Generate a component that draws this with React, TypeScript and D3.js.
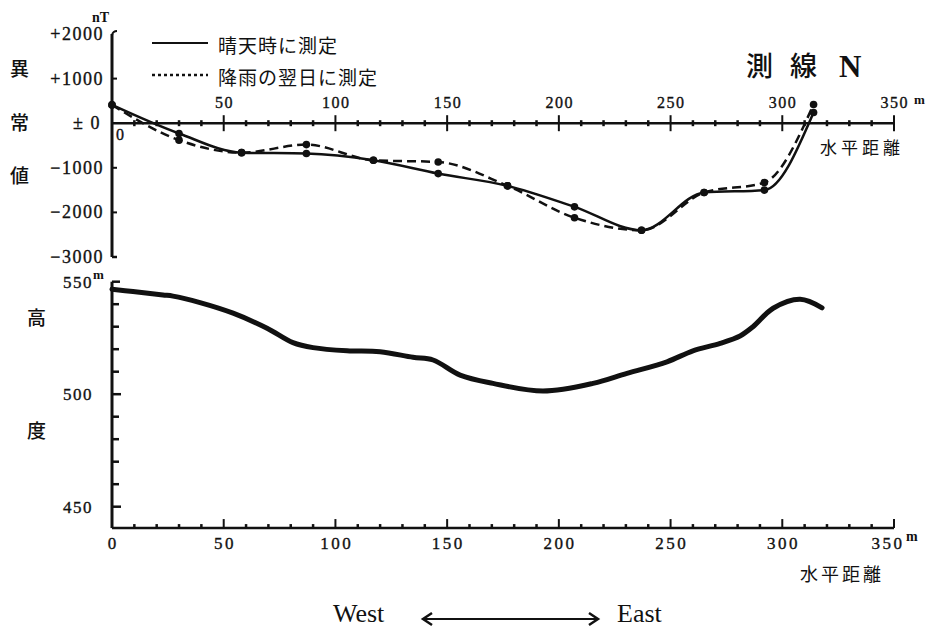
import React from "react";
import * as d3 from "d3";

// ---- data ----
const stationDistances = [0, 30, 58, 87, 117, 146, 177, 207, 237, 265, 292, 314];
const sunnyAnomaly = [410, -230, -660, -680, -830, -1130, -1405, -1875, -2400, -1555, -1500, 240];
const rainAnomaly = [410, -380, -660, -480, -830, -870, -1405, -2120, -2400, -1555, -1330, 420];

const profileDistances = [0, 9.4, 22.8, 27.3, 39.4, 54.2, 69.4, 81, 90, 105.2, 120, 134.7, 143.7, 155.8, 170.5, 192.9, 215.3, 230.5, 248.4, 260, 272.2, 281.1, 286.9, 295.9, 308, 317.8];
const profileHeights = [546.6, 545.6, 544.1, 543.6, 540.7, 536, 529.3, 522.9, 520.7, 519.3, 518.9, 516.4, 515.2, 508.5, 504.8, 501.4, 504.8, 509.3, 514.4, 519.3, 522.6, 525.9, 530, 538.2, 542.2, 538.4];

const xMajorTicks = [0, 50, 100, 150, 200, 250, 300, 350];
const anomalyTicks = [2000, 1000, 0, -1000, -2000, -3000];
const anomalyTickLabels = ["+2000", "+1000", "± 0", "−1000", "−2000", "−3000"];
const heightTicks = [550, 500, 450];
const legendLabels = ["晴天時に測定", "降雨の翌日に測定"];

const TSERIF = "'Liberation Serif', 'Times New Roman', serif";
const CJK = "'Noto Sans CJK JP', sans-serif";

export default function App() {
  const x = d3.scaleLinear().domain([0, 350]).range([112, 894]);
  const yTop = d3.scaleLinear().domain([-3000, 2000]).range([257, 34]);
  const yBot = d3.scaleLinear().domain([450, 550]).range([506.7, 281.7]);
  const topAxisY = yTop(0);
  const botAxisY = yBot(440.5);
  const axisX = x(0);

  const minorTicks = d3.range(10, 350, 10).filter((d) => d % 50 !== 0);
  const heightMinor = d3.range(450, 551, 10);

  const anomalyLine = d3
    .line<number>()
    .x((_, i) => x(stationDistances[i]))
    .y((d) => yTop(d))
    .curve(d3.curveMonotoneX);

  const profileLine = d3
    .line<number>()
    .x((_, i) => x(profileDistances[i]))
    .y((d) => yBot(d))
    .curve(d3.curveCatmullRom.alpha(0.5));

  const stroke = "#111";
  const numStyle = { stroke: stroke, strokeWidth: 0.35 };

  return (
    <svg
      width={928}
      height={630}
      style={{ position: "absolute", left: 0, top: 0, background: "#fff" }}
    >
      {/* ---------- top chart ---------- */}
      <line x1={axisX} x2={axisX} y1={yTop(2000)} y2={yTop(-3000)} stroke={stroke} strokeWidth={3} />
      <path d={`M${axisX},${yTop(2000) + 1} Q${axisX + 1},${yTop(2000) - 3} ${axisX + 5},${yTop(2000) - 3}`} fill="none" stroke={stroke} strokeWidth={2} />
      <line x1={axisX} x2={axisX + 5} y1={yTop(-3000)} y2={yTop(-3000)} stroke={stroke} strokeWidth={2.5} />
      {anomalyTicks.map((t, i) => (
        <g key={"ayt" + t}>
          {t !== 0 && t !== 2000 && t !== -3000 && (
            <line x1={axisX} x2={axisX + 5} y1={yTop(t)} y2={yTop(t)} stroke={stroke} strokeWidth={2} />
          )}
          <text
            x={t === 0 ? 101 : 104}
            y={yTop(t) + 6}
            textAnchor="end"
            fontFamily={TSERIF}
            fontSize={18}
            letterSpacing={1.5}
            fill={stroke}
            {...numStyle}
          >
            {anomalyTickLabels[i]}
          </text>
        </g>
      ))}
      <text x={92} y={22} fontFamily={TSERIF} fontSize={14} fontWeight="bold" fill={stroke}>
        nT
      </text>
      <line x1={axisX} x2={x(350)} y1={topAxisY} y2={topAxisY} stroke={stroke} strokeWidth={2.5} />
      {minorTicks.map((t) => (
        <line key={"tm" + t} x1={x(t)} x2={x(t)} y1={topAxisY - 3} y2={topAxisY + 3} stroke={stroke} strokeWidth={2.5} />
      ))}
      {xMajorTicks.filter((t) => t > 0).map((t) => (
        <g key={"tM" + t}>
          <line x1={x(t)} x2={x(t)} y1={topAxisY - 8} y2={topAxisY + 8} stroke={stroke} strokeWidth={2} />
          <text x={x(t) + 0.8} y={108} textAnchor="middle" fontFamily={TSERIF} fontSize={16} letterSpacing={1.5} fill={stroke} {...numStyle}>
            {t}
          </text>
        </g>
      ))}
      <text x={120} y={140} textAnchor="middle" fontFamily={TSERIF} fontSize={16} fill={stroke} {...numStyle}>
        0
      </text>
      <text x={x(350) + 20} y={104} fontFamily={TSERIF} fontSize={13} fontWeight="bold" fill={stroke}>
        m
      </text>
      <text x={820} y={154} fontFamily={CJK} fontSize={17} letterSpacing={4} fill={stroke}>
        水平距離
      </text>

      {/* anomaly curves */}
      <path d={anomalyLine(rainAnomaly) || ""} fill="none" stroke={stroke} strokeWidth={2.5} strokeDasharray="9,5" />
      <path d={anomalyLine(sunnyAnomaly) || ""} fill="none" stroke={stroke} strokeWidth={2.5} />
      {rainAnomaly.map((v, i) => (
        <circle key={"rd" + i} cx={x(stationDistances[i])} cy={yTop(v)} r={3.8} fill={stroke} />
      ))}
      {sunnyAnomaly.map((v, i) => (
        <circle key={"sd" + i} cx={x(stationDistances[i])} cy={yTop(v)} r={3.8} fill={stroke} />
      ))}

      {/* left labels */}
      <text x={10} y={76} fontFamily={CJK} fontSize={19} fontWeight={500} fill={stroke}>異</text>
      <text x={10} y={130} fontFamily={CJK} fontSize={19} fontWeight={500} fill={stroke}>常</text>
      <text x={10} y={183} fontFamily={CJK} fontSize={19} fontWeight={500} fill={stroke}>値</text>

      {/* legend */}
      <line x1={152} x2={208} y1={43} y2={43} stroke={stroke} strokeWidth={2} />
      <text x={218} y={53} fontFamily={CJK} fontSize={19} letterSpacing={1} fill={stroke}>
        {legendLabels[0]}
      </text>
      <line x1={152} x2={208} y1={75} y2={75} stroke={stroke} strokeWidth={2.5} strokeDasharray="3,3" />
      <text x={218} y={85} fontFamily={CJK} fontSize={19} letterSpacing={1} fill={stroke}>
        {legendLabels[1]}
      </text>

      {/* title */}
      <text x={746} y={76} fontFamily={CJK} fontSize={27} fontWeight={500} fill={stroke}>測</text>
      <text x={790} y={76} fontFamily={CJK} fontSize={27} fontWeight={500} fill={stroke}>線</text>
      <text x={839} y={77} fontFamily={TSERIF} fontSize={31} fontWeight="bold" fill={stroke}>N</text>

      {/* ---------- bottom chart ---------- */}
      <line x1={axisX} x2={axisX} y1={yBot(550)} y2={botAxisY} stroke={stroke} strokeWidth={3} />
      {heightMinor.map((t) => (
        <line
          key={"hm" + t}
          x1={axisX}
          x2={axisX + (t === 550 ? 8 : t % 50 === 0 ? 9 : 7)}
          y1={yBot(t)}
          y2={yBot(t)}
          stroke={stroke}
          strokeWidth={2.5}
        />
      ))}
      {heightTicks.map((t) => (
        <text key={"hl" + t} x={93} y={yBot(t) + 6} textAnchor="end" fontFamily={TSERIF} fontSize={17} letterSpacing={1.5} fill={stroke} {...numStyle}>
          {t}
        </text>
      ))}
      <text x={93} y={279} fontFamily={TSERIF} fontSize={13} fontWeight="bold" fill={stroke}>
        m
      </text>
      <text x={27} y={325} fontFamily={CJK} fontSize={19} fontWeight={500} fill={stroke}>高</text>
      <text x={27} y={438} fontFamily={CJK} fontSize={19} fontWeight={500} fill={stroke}>度</text>

      <line x1={axisX} x2={x(350)} y1={botAxisY} y2={botAxisY} stroke={stroke} strokeWidth={2.5} />
      {minorTicks.map((t) => (
        <line key={"bm" + t} x1={x(t)} x2={x(t)} y1={botAxisY - 4} y2={botAxisY} stroke={stroke} strokeWidth={2.5} />
      ))}
      {xMajorTicks.map((t) => (
        <g key={"bM" + t}>
          {t > 0 && <line x1={x(t)} x2={x(t)} y1={botAxisY - 9} y2={botAxisY} stroke={stroke} strokeWidth={2} />}
          <text
            x={x(t) + (t === 350 ? -6 : 1.2)}
            y={549}
            textAnchor="middle"
            fontFamily={TSERIF}
            fontSize={17}
            letterSpacing={2.5}
            fill={stroke}
            {...numStyle}
          >
            {t}
          </text>
        </g>
      ))}
      <text x={x(350) + 12} y={541} fontFamily={TSERIF} fontSize={14} fontWeight="bold" fill={stroke}>
        m
      </text>
      <text x={800} y={581} fontFamily={CJK} fontSize={18} letterSpacing={3} fill={stroke}>
        水平距離
      </text>

      <path d={profileLine(profileHeights) || ""} fill="none" stroke={stroke} strokeWidth={5} strokeLinecap="round" strokeLinejoin="round" />

      {/* direction */}
      <text x={333} y={622} fontFamily={TSERIF} fontSize={26} fill={stroke}>West</text>
      <line x1={424} x2={597} y1={619} y2={619} stroke={stroke} strokeWidth={2} />
      <path d="M432,613 L423,619 L432,625" fill="none" stroke={stroke} strokeWidth={2.5} />
      <path d="M589,613 L598,619 L589,625" fill="none" stroke={stroke} strokeWidth={2.5} />
      <text x={617} y={622} fontFamily={TSERIF} fontSize={26} fill={stroke}>East</text>
    </svg>
  );
}
